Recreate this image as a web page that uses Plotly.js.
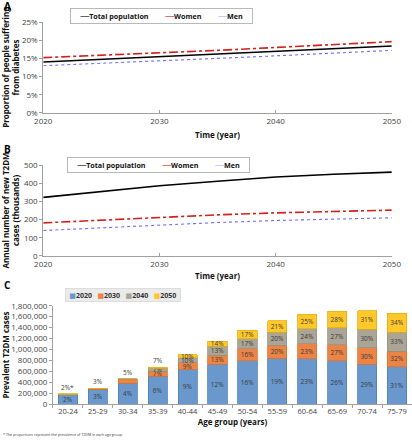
<!DOCTYPE html>
<html><head><meta charset="utf-8">
<script src="https://cdn.plot.ly/plotly-3.0.1.min.js"></script>
<style>html,body{margin:0;padding:0;background:#fff}#chart{width:412px;height:440px}</style>
</head><body><div id="chart"></div>
<script>
// ---- Panel A / B data ----
const years = [2020, 2025, 2030, 2035, 2040, 2045, 2050];
const propTotal = [0.140, 0.147, 0.154, 0.161, 0.168, 0.176, 0.184];
const propWomen = [0.152, 0.158, 0.165, 0.172, 0.180, 0.188, 0.196];
const propMen   = [0.130, 0.136, 0.143, 0.150, 0.157, 0.165, 0.172];
const newTotal = [322, 355, 386, 411, 434, 449, 461];
const newWomen = [182, 198, 213, 226, 237, 245, 252];
const newMen   = [140, 156, 171, 184, 195, 203, 210];
const seriesNames = ['Total population', 'Women', 'Men'];

// ---- Panel C data ----
const ageGroups = ['20-24','25-29','30-34','35-39','40-44','45-49','50-54','55-59','60-64','65-69','70-74','75-79'];
const barYears = ['2020','2030','2040','2050'];
const cases2020 = [175000,274000,389000,511000,638000,729000,796000,845000,833000,796000,729000,687000];
const cases2030 = [8000,10000,61000,91000,122000,165000,219000,231000,273000,292000,304000,286000];
const cases2040 = [4000,5000,15000,55000,91000,164000,183000,243000,274000,310000,341000,346000];
const cases2050 = [3000,3000,5000,18000,55000,91000,158000,207000,261000,304000,334000,347000];
const lab2020 = ['2%','3%','4%','6%','9%','12%','16%','19%','23%','26%','29%','31%'];
const lab2030 = ['','','','7%','9%','13%','16%','20%','23%','27%','30%','32%'];
const lab2040 = ['','','','7%','10%','13%','17%','20%','24%','27%','30%','33%'];
const lab2050 = ['','','','','10%','14%','17%','21%','25%','28%','31%','34%'];
const labTop  = ['2%*','3%','5%','7%','','','','','','','',''];
const footnote = '* The proportions represent the prevalence of T2DM in each age group.';

const FONT = 'Open Sans, Liberation Sans, sans-serif';
const lineStyles = [
  {color:'#000000', width:1.6, dash:'solid'},
  {color:'#d0201c', width:1.6, dash:'dashdot'},
  {color:'#6a6aff', width:1.1, dash:'dot'}
];
const legendGlyphs = ['\u2500\u2500', '\u2500\u2500', '\u2504\u2504'];
const traces = [];
[[propTotal, propWomen, propMen, 'x', 'y'],
 [newTotal, newWomen, newMen, 'x2', 'y2']].forEach(([a,b,c,xa,ya]) => {
  [a,b,c].forEach((vals, i) => {
    traces.push({type:'scatter', mode:'lines', x: years, y: vals, name: seriesNames[i],
      xaxis: xa, yaxis: ya, line: lineStyles[i], hoverinfo:'skip', showlegend:false});
  });
});

const barFill = ['#6a98cc','#eb8446','#aba596','#ffc82a'];
const barLine = ['#4f7fb8','#e07430','#979282','#e8ad10'];
[cases2020, cases2030, cases2040, cases2050].forEach((vals, i) => {
  traces.push({type:'bar', x: ageGroups, y: vals, name: barYears[i], xaxis:'x3', yaxis:'y3',
    showlegend:false, text: [lab2020, lab2030, lab2040, lab2050][i], textposition:'inside',
    insidetextanchor:'middle', textangle:0, constraintext:'none',
    textfont:{family:FONT, size:6.5, color:'#3a3a3a'},
    marker:{color: barFill[i], line:{color: barLine[i], width:0.8}}, hoverinfo:'skip'});
});

const annotations = [];
ageGroups.forEach((g, k) => {
  if (labTop[k]) {
    annotations.push({xref:'x3', yref:'y3', x: g,
      y: cases2020[k] + cases2030[k] + cases2040[k] + cases2050[k],
      text: labTop[k], showarrow:false, yanchor:'bottom', yshift:0,
      font:{family:FONT, size:6.5, color:'#3a3a3a'}});
  }
});
[['A', 0.966], ['B', 0.64], ['C', 0.331]].forEach(([t, yy]) => {
  annotations.push({xref:'paper', yref:'paper', x:0.005, y:yy, xanchor:'left', yanchor:'bottom',
    text:'<b>'+t+'</b>', showarrow:false, font:{family:FONT, size:10, color:'#000'}});
});
annotations.push({xref:'paper', yref:'paper', x:0.003, y:0.002, xanchor:'left', yanchor:'bottom',
  text: footnote, showarrow:false, font:{family:FONT, size:3.6, color:'#333'}});

// legends as text boxes (compact, like the reference)
const NB = '\u00A0';
const lineLegendText = NB.repeat(4) + seriesNames.map((n, i) =>
  '<span style="color:' + lineStyles[i].color + ';font-family:DejaVu Sans">' + legendGlyphs[i] + '</span>' + '<b>' + n + '</b>'
).join(NB.repeat(9)) + NB.repeat(4);
[[0.393, 0.9636], [0.385, 0.6255]].forEach(([xx, yy]) => {
  annotations.push({xref:'paper', yref:'paper', x:xx, y:yy, xanchor:'center', yanchor:'middle',
    text: lineLegendText, showarrow:false, bgcolor:'#ffffff', bordercolor:'#b8b8b8', borderwidth:1,
    borderpad:2, font:{family:FONT, size:7.2, color:'#111'}});
});
const barLegendText = NB + barYears.map((n, i) =>
  '<span style="color:' + barFill[i] + ';font-family:DejaVu Sans">\u25A0</span><b>' + n + '</b>'
).join(NB.repeat(3)) + NB;
annotations.push({xref:'paper', yref:'paper', x:0.298, y:0.3295, xanchor:'center', yanchor:'middle',
  text: barLegendText, showarrow:false, bgcolor:'#ebebeb', bordercolor:'#dddddd', borderwidth:1,
  borderpad:1.5, font:{family:FONT, size:7, color:'#333'}});

const tickFont = {family:FONT, size:8, color:'#444'};
const titleFont = {family:FONT, size:8, color:'#111', weight:'bold'};
const xLine = {showline:true, linecolor:'#a0a0a0', linewidth:1, showgrid:false, zeroline:false,
  ticks:'inside', ticklen:3, tickcolor:'#a0a0a0', tickfont: tickFont};
const yLine = {showline:true, linecolor:'#a0a0a0', linewidth:1, showgrid:false, zeroline:false,
  ticks:'outside', ticklen:3, tickcolor:'#a0a0a0', tickfont: tickFont};

const layout = {
  width:412, height:440, margin:{l:0, r:0, t:0, b:0},
  paper_bgcolor:'#fff', plot_bgcolor:'#fff', showlegend:false, barmode:'stack', bargap:0.36,
  uniformtext:{mode:'show', minsize:6.5},
  xaxis: Object.assign({}, xLine, {domain:[0.105, 0.951], anchor:'y', range:[2020, 2050],
    tickvals:[2020,2030,2040,2050], title:{text:'Time (year)', font:titleFont, standoff:7}}),
  yaxis: Object.assign({}, yLine, {domain:[0.7432, 0.95], anchor:'x', range:[0, 0.25], dtick:0.05,
    tickformat:'.0%', title:{text:'Proportion of people suffering<br>from diabetes', font:titleFont, standoff:6}}),
  xaxis2: Object.assign({}, xLine, {domain:[0.105, 0.951], anchor:'y2', range:[2020, 2050],
    tickvals:[2020,2030,2040,2050], title:{text:'Time (year)', font:titleFont, standoff:5}}),
  yaxis2: Object.assign({}, yLine, {domain:[0.4182, 0.625], anchor:'x2', range:[0, 500], dtick:100,
    title:{text:'Annual number of new T2DM<br>cases (thousands)', font:titleFont, standoff:6}}),
  xaxis3: Object.assign({}, xLine, {domain:[0.1286, 1.0], anchor:'y3', ticks:'outside',
    tickson:'boundaries', tickangle:0, tickfont:{family:FONT, size:7.5, color:'#444'},
    title:{text:'Age group (years)', font:titleFont, standoff:3}}),
  yaxis3: Object.assign({}, yLine, {domain:[0.0811, 0.3052], anchor:'x3', range:[0, 1800000],
    dtick:200000, tickformat:',', title:{text:'Prevalent T2DM cases', font:titleFont, standoff:6}}),
  annotations: annotations
};

Plotly.newPlot('chart', traces, layout, {displayModeBar:false, staticPlot:true});
</script>
</body></html>
